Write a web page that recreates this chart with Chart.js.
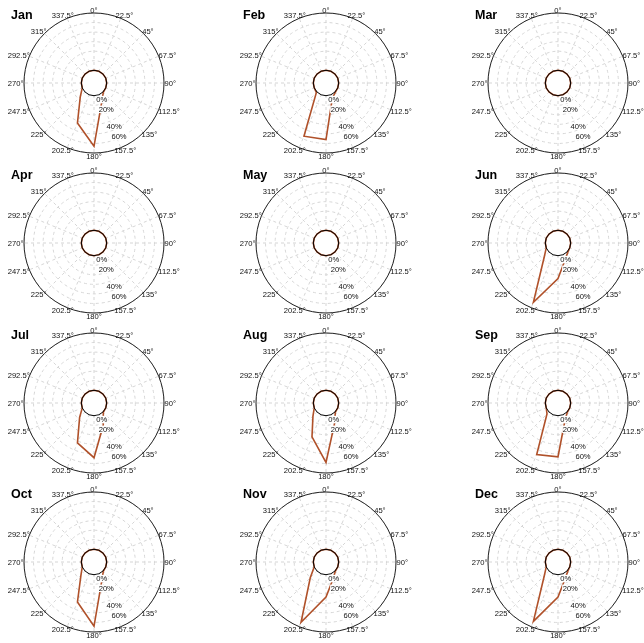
<!DOCTYPE html>
<html><head><meta charset="utf-8">
<script src="https://cdn.jsdelivr.net/npm/chart.js@4.4.0/dist/chart.umd.min.js"></script>
<style>
html,body{margin:0;padding:0;background:#fff;width:644px;height:643px;overflow:hidden;position:relative}
canvas{position:absolute}
</style></head><body>
<script>
// ---------- data ----------
const months = ['Jan','Feb','Mar','Apr','May','Jun','Jul','Aug','Sep','Oct','Nov','Dec'];
const directions = ['0°','22.5°','45°','67.5°','90°','112.5°','135°','157.5°','180°','202.5°','225°','247.5°','270°','292.5°','315°','337.5°'];
const ringLabelValues = [0, 20, 40, 60];
const ringLabels = ['0%', '20%', '40%', '60%'];
const gridValues = [0, 10, 20, 30, 40, 50, 60];
//            0  22.5 45 67.5 90 112.5 135 157.5 180 202.5 225 247.5 270 292.5 315 337.5
const janPct = [0, 0, 0, 0, 0, 0, 0.5, 8, 53, 32, 7, 0, 0, 0, 0, 0];
const febPct = [0, 0, 0, 0, 0, 0, 0.5, 4, 46, 47, 1, 0, 0, 0, 0, 0];
const marPct = [0, 0, 0, 0, 0, 0, 0, 0, 0, 0, 0, 0, 0, 0, 0, 0];
const aprPct = [0, 0, 0, 0, 0, 0, 0, 0, 0, 0, 0, 0, 0, 0, 0, 0];
const mayPct = [0, 0, 0, 0, 0, 0, 0, 0, 0, 0, 0, 0, 0, 0, 0, 0];
const junPct = [0, 0, 0, 0, 0, 0, 1, 6, 24, 54, 7, 0, 0, 0, 0, 0];
const julPct = [0, 0, 0, 0, 0, 0, 0.5, 12, 44, 32, 8, 0, 0, 0, 0, 0];
const augPct = [0, 0, 0, 0, 0, 0, 0.5, 10, 49, 25, 6, 0, 0, 0, 0, 0];
const sepPct = [0, 0, 0, 0, 0, 0, 0.5, 6, 43, 45, 3, 0, 0, 0, 0, 0];
const octPct = [0, 0, 0, 0, 0, 0, 0.5, 8, 54, 32, 6, 0, 0, 0, 0, 0];
const novPct = [0, 0, 0, 0, 0, 0, 0.5, 6, 23.5, 55, 10, 0, 0, 0, 0, 0];
const decPct = [0, 0, 0, 0, 0, 0, 1, 6, 23.5, 54, 7, 0, 0, 0, 0, 0];
const monthValues = [janPct, febPct, marPct, aprPct, mayPct, junPct, julPct, augPct, sepPct, octPct, novPct, decPct];

// ---------- style ----------
const LINE = '#b0512a';
const GRID = '#d6d6d6';
const FONT = '"Liberation Sans", Arial, sans-serif';
const CW = 232, CH = 160;
const colLeft = [-22, 210, 442];
const rowTop = [3, 163, 323, 482];
const HOLE = 13.3;
const ringAngle = 155;
const ringNudge = [5.6, -2.8, -3.1, -10.8];

const panelPlugin = {
  id: 'panel',
  beforeDatasetsDraw(chart) {
    const s = chart.scales.r, ctx = chart.ctx;
    const r0 = s.getDistanceFromCenterForValue(0);
    ctx.save();
    ctx.fillStyle = '#fff';
    ctx.beginPath(); ctx.arc(s.xCenter, s.yCenter, r0, 0, Math.PI * 2); ctx.fill();
    ctx.restore();
  },
  afterDatasetsDraw(chart, args, opts) {
    const s = chart.scales.r, ctx = chart.ctx;
    const xc = s.xCenter, yc = s.yCenter;
    const r0 = s.getDistanceFromCenterForValue(0);
    const rMax = s.getDistanceFromCenterForValue(s.max);
    ctx.save();
    ctx.strokeStyle = '#000'; ctx.lineWidth = 1;
    ctx.beginPath(); ctx.arc(xc, yc, r0, 0, Math.PI * 2); ctx.stroke();
    ctx.strokeStyle = '#222';
    ctx.beginPath(); ctx.arc(xc, yc, rMax, 0, Math.PI * 2); ctx.stroke();

    const fs = 7.6;
    ctx.font = fs + 'px ' + FONT;
    const capH = fs * 0.716;
    // ring labels
    const ta = ringAngle * Math.PI / 180;
    ringLabelValues.forEach((v, i) => {
      const r = s.getDistanceFromCenterForValue(v) + ringNudge[i];
      const x = xc + r * Math.sin(ta), y = yc - r * Math.cos(ta);
      const w = ctx.measureText(ringLabels[i]).width;
      ctx.fillStyle = '#fff';
      ctx.fillRect(x - w / 2 - 0.5, y - capH / 2 - 1, w + 1, capH + 2);
      ctx.fillStyle = '#111';
      ctx.textAlign = 'left'; ctx.textBaseline = 'alphabetic';
      ctx.fillText(ringLabels[i], x - w / 2, y + capH / 2);
    });
    // direction labels
    directions.forEach((lab, i) => {
      const th = i * 22.5 * Math.PI / 180;
      const p = rMax + 0.5;
      const px = xc + p * Math.sin(th), py = yc - p * Math.cos(th);
      const w = ctx.measureText(lab).width;
      const left = px - w * (0.5 - 0.5 * Math.sin(th));
      const top = py - capH * (0.5 + 0.5 * Math.cos(th));
      ctx.fillStyle = '#111';
      ctx.textAlign = 'left'; ctx.textBaseline = 'alphabetic';
      ctx.fillText(lab, left, top + capH);
    });
    // title
    ctx.font = 'bold 12.5px ' + FONT;
    ctx.fillStyle = '#000';
    ctx.fillText(opts.title, xc - 83, yc - 64);
    ctx.restore();
  }
};

months.forEach((m, k) => {
  const cv = document.createElement('canvas');
  cv.width = CW; cv.height = CH;
  cv.style.left = colLeft[k % 3] + 'px';
  cv.style.top = rowTop[Math.floor(k / 3)] + 'px';
  cv.style.width = CW + 'px'; cv.style.height = CH + 'px';
  document.body.appendChild(cv);
  new Chart(cv, {
    type: 'radar',
    data: {
      labels: directions,
      datasets: [{
        data: monthValues[k], borderColor: LINE, borderWidth: 1.6, fill: false,
        pointRadius: 0, pointHoverRadius: 0, tension: 0
      }]
    },
    options: {
      responsive: false, animation: false, events: [],
      layout: { padding: { left: 46, right: 46, top: 10, bottom: 10 } },
      plugins: { legend: { display: false }, tooltip: { enabled: false }, panel: { title: m } },
      scales: {
        r: {
          min: -HOLE, max: 60,
          afterBuildTicks: sc => { sc.ticks = gridValues.map(v => ({ value: v })); },
          ticks: { display: false },
          grid: { circular: true, color: GRID, lineWidth: 1, borderDash: [3, 3] },
          border: { dash: [3, 3] },
          angleLines: { color: GRID, lineWidth: 1, borderDash: [3, 3] },
          pointLabels: { display: false }
        }
      }
    },
    plugins: [panelPlugin]
  });
});
</script>
</body></html>
